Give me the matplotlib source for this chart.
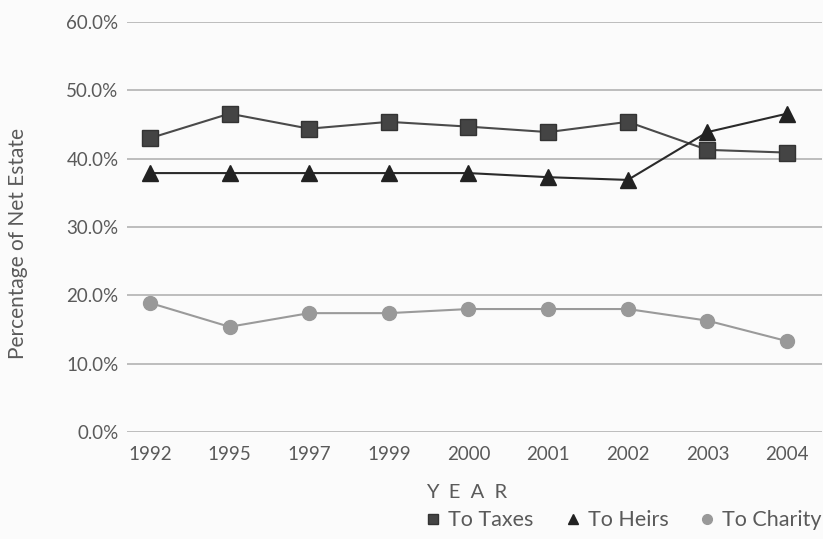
import matplotlib
matplotlib.use("Agg")
import matplotlib.pyplot as plt

# share of net estate, percent
years = ["1992", "1995", "1997", "1999", "2000", "2001", "2002", "2003", "2004"]
to_taxes = [43.0, 46.6, 44.4, 45.4, 44.7, 43.9, 45.4, 41.3, 40.9]
to_heirs = [37.9, 37.9, 37.9, 37.9, 37.9, 37.3, 36.9, 43.9, 46.6]
to_charity = [18.9, 15.4, 17.4, 17.4, 18.0, 18.0, 18.0, 16.3, 13.3]
yticks = [0, 10, 20, 30, 40, 50, 60]

plt.rcParams["font.family"] = ["Lato", "DejaVu Sans"]
text_color = "#5a5a5a"

fig = plt.figure(figsize=(8.23, 5.39), dpi=100, facecolor="#fbfbfb")
ax = fig.add_axes([0.154, 0.1985, 0.845, 0.7605], facecolor="#fbfbfb")

x = list(range(len(years)))
ax.plot(x, to_taxes, color="#4a4a4a", lw=1.5, marker="s", ms=11,
        mfc="#444444", mec="#333333", label="To Taxes", zorder=3)
ax.plot(x, to_heirs, color="#2a2a2a", lw=1.5, marker="^", ms=11,
        mfc="#222222", mec="#222222", label="To Heirs", zorder=3)
ax.plot(x, to_charity, color="#9a9a9a", lw=1.5, marker="o", ms=10,
        mfc="#999999", mec="#999999", label="To Charity", zorder=3)

ax.set_xlim(-0.29, 8.44)
ax.set_ylim(0, 60)
ax.set_xticks(x)
ax.set_xticklabels(years)
ax.set_yticks(yticks)
ax.set_yticklabels([f"{v:.1f}%" for v in yticks])
ax.grid(axis="y", color="#bdbdbd", lw=1.4)
ax.set_axisbelow(True)
for s in ax.spines.values():
    s.set_visible(False)
ax.tick_params(length=0, labelsize=13.5, colors=text_color, pad=6)
ax.tick_params(axis="x", pad=10)

fig.text(0.022, 0.549, "Percentage of Net Estate", rotation=90,
         ha="center", va="center", fontsize=15, color=text_color)
fig.text(0.567, 0.087, "Y  E  A  R", ha="center", va="center",
         fontsize=14.5, color=text_color)

fig.legend(loc="lower right", bbox_to_anchor=(1.022, -0.02), ncol=3,
           frameon=False, fontsize=15.5, labelcolor=text_color,
           handlelength=0.7, handletextpad=0.35, columnspacing=1.45,
           markerscale=0.7)
for h in fig.legends[0].get_lines():
    h.set_linestyle("none")

fig.savefig("out.png", dpi=100, facecolor=fig.get_facecolor())
